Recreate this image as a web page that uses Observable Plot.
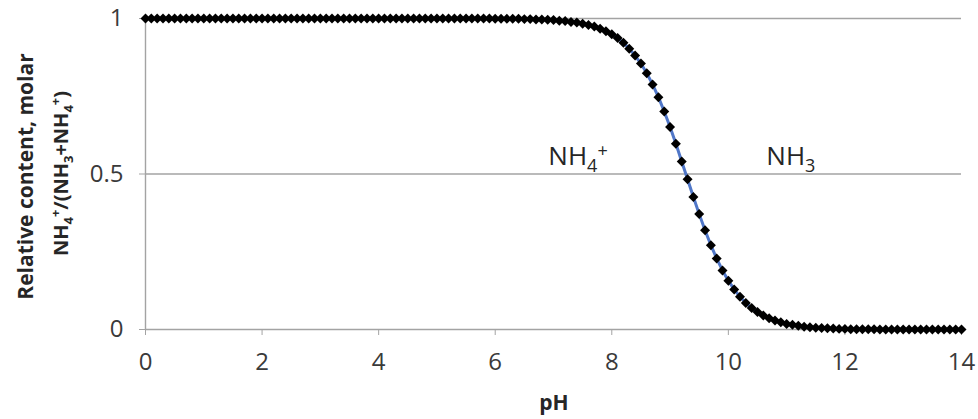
<!DOCTYPE html>
<html>
<head>
<meta charset="utf-8">
<script src="https://cdn.jsdelivr.net/npm/d3@7"></script>
<script src="https://cdn.jsdelivr.net/npm/@observablehq/plot@0.6"></script>
<style>
  html, body { margin: 0; padding: 0; background: #fff; }
  #chart { width: 978px; height: 419px; }
</style>
</head>
<body>
<div id="chart"></div>
<script>
// pH grid (x values)
const pH = [
  0.0,0.1,0.2,0.3,0.4,0.5,0.6,0.7,0.8,0.9,
  1.0,1.1,1.2,1.3,1.4,1.5,1.6,1.7,1.8,1.9,
  2.0,2.1,2.2,2.3,2.4,2.5,2.6,2.7,2.8,2.9,
  3.0,3.1,3.2,3.3,3.4,3.5,3.6,3.7,3.8,3.9,
  4.0,4.1,4.2,4.3,4.4,4.5,4.6,4.7,4.8,4.9,
  5.0,5.1,5.2,5.3,5.4,5.5,5.6,5.7,5.8,5.9,
  6.0,6.1,6.2,6.3,6.4,6.5,6.6,6.7,6.8,6.9,
  7.0,7.1,7.2,7.3,7.4,7.5,7.6,7.7,7.8,7.9,
  8.0,8.1,8.2,8.3,8.4,8.5,8.6,8.7,8.8,8.9,
  9.0,9.1,9.2,9.3,9.4,9.5,9.6,9.7,9.8,9.9,
  10.0,10.1,10.2,10.3,10.4,10.5,10.6,10.7,10.8,10.9,
  11.0,11.1,11.2,11.3,11.4,11.5,11.6,11.7,11.8,11.9,
  12.0,12.1,12.2,12.3,12.4,12.5,12.6,12.7,12.8,12.9,
  13.0,13.1,13.2,13.3,13.4,13.5,13.6,13.7,13.8,13.9,
  14.0
];
// Relative molar content NH4+/(NH3+NH4+)
const nh4Fraction = [
  1,1,1,1,1,1,1,1,1,1,
  1,1,1,1,1,1,1,1,1,1,
  1,1,1,1,1,1,1,1,1,1,
  1,1,1,1,1,1,1,1,1,1,
  1,1,1,1,1,1,1,1,1,1,
  1,1,1,1,1,1,1,1,1,1,
  0.999,0.999,0.999,0.999,0.999,0.998,0.998,0.997,0.997,0.996,
  0.995,0.993,0.992,0.989,0.987,0.983,0.979,0.974,0.967,0.959,
  0.949,0.937,0.922,0.903,0.881,0.855,0.824,0.788,0.747,0.701,
  0.651,0.597,0.540,0.483,0.426,0.371,0.319,0.271,0.228,0.190,
  0.157,0.129,0.105,0.085,0.069,0.056,0.045,0.036,0.029,0.023,
  0.018,0.015,0.012,0.009,0.007,0.006,0.005,0.004,0.003,0.002,
  0.002,0.001,0.001,0.001,0.001,0.001,0,0,0,0,
  0,0,0,0,0,0,0,0,0,0,
  0
];
const xTicks = [0, 2, 4, 6, 8, 10, 12, 14];
const yTicks = [0, 0.5, 1];
const gridValues = [0.5, 1];
const xTitle = "pH";
const yTitleLine1 = "Relative content, molar";
// rich text pieces: [text, shift]
const yTitleLine2 = [["NH",0],["4","sub"],["+","sup"],["/(NH",0],["3","sub"],["+NH",0],["4","sub"],["+","sup"],[")",0]];
const labelNH4 = {x: 6.92, y: 0.527, parts: [["NH",0],["4","sub"],["+","sup"]]};
const labelNH3 = {x: 10.66, y: 0.527, parts: [["NH",0],["3","sub"]]};

const data = pH.map((p, i) => ({pH: p, f: nh4Fraction[i]}));

const gray = "#a3a3a3";
const textColor = "#3a3a3a";
const font = "'Open Sans', sans-serif";

const plot = Plot.plot({
  width: 978,
  height: 419,
  marginLeft: 145,
  marginRight: 17,
  marginTop: 18,
  marginBottom: 90,
  style: {fontFamily: font, fontSize: "24px", color: textColor, background: "#fff"},
  x: {domain: [0, 14]},
  y: {domain: [0, 1]},
  marks: [
    Plot.ruleY(gridValues, {stroke: gray, strokeWidth: 1.4}),
    Plot.ruleY([0], {stroke: gray, strokeWidth: 1.4}),
    Plot.ruleX([0], {y1: 0, y2: 1, stroke: gray, strokeWidth: 1.4}),
    Plot.axisX({ticks: xTicks, tickSize: 6, tickPadding: 17, stroke: gray, fill: textColor, label: null, tickFormat: d => String(d)}),
    Plot.axisY({ticks: yTicks, tickSize: 6, tickPadding: 16, stroke: gray, fill: textColor, label: null, tickFormat: d => String(d)}),
    Plot.line(data, {x: "pH", y: "f", stroke: "#5077c8", strokeWidth: 3}),
    Plot.dot(data, {x: "pH", y: "f", symbol: "diamond2", r: 4.5, fill: "#000", stroke: "none"})
  ]
});
document.getElementById("chart").appendChild(plot);

const svg = d3.select(plot);
const xs = plot.scale("x"), ys = plot.scale("y");

// axis tick labels size (the only texts Plot generated)
svg.selectAll("text").style("font-size", "24px");

// parts: [text, shift]; shifts in px for sub/sup
function rich(sel, parts, subSize, subDy, supDy) {
  let off = 0;
  parts.forEach(([t, s]) => {
    const target = s === "sub" ? subDy : s === "sup" ? supDy : 0;
    const ts = sel.append("tspan").text(t);
    ts.attr("dy", (target - off) + "px");
    if (s) ts.style("font-size", subSize + "px");
    off = target;
  });
}

// in-plot labels
[labelNH4, labelNH3].forEach(l => {
  const t = svg.append("text")
    .attr("x", xs.apply(l.x)).attr("y", ys.apply(l.y))
    .attr("text-anchor", "start")
    .style("font-size", "26px")
    .attr("fill", "#262626")
    .attr("font-family", font);
  rich(t, l.parts, 18, 7, -8);
});

// x-axis title
svg.append("text")
  .attr("x", 554).attr("y", 410)
  .attr("text-anchor", "middle")
  .style("font-size", "21px").attr("font-weight", "bold")
  .attr("fill", "#262626")
  .attr("font-family", font)
  .text(xTitle);

// y-axis title (two lines, rotated)
const yc = (ys.apply(0) + ys.apply(1)) / 2;
svg.append("text")
  .attr("transform", `translate(33,${yc + 3}) rotate(-90)`)
  .attr("text-anchor", "middle")
  .style("font-size", "21px").attr("font-weight", "bold")
  .attr("fill", "#262626")
  .attr("font-family", font)
  .text(yTitleLine1);
const t2 = svg.append("text")
  .attr("transform", `translate(68,${yc}) rotate(-90)`)
  .attr("text-anchor", "middle")
  .style("font-size", "20px").attr("font-weight", "bold")
  .attr("fill", "#262626")
  .attr("font-family", font);
rich(t2, yTitleLine2, 13, 5, -8);
</script>
</body>
</html>
